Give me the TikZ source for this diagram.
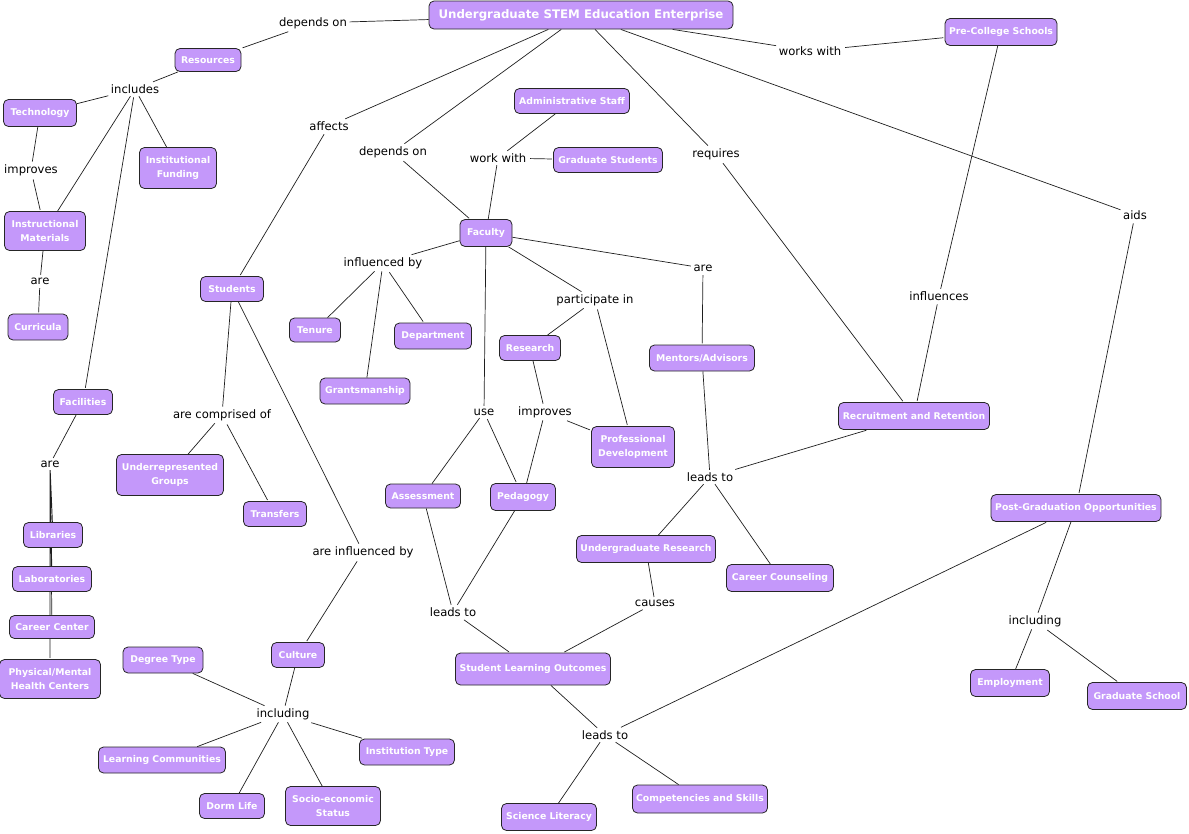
\documentclass[tikz,border=0pt]{standalone}
\usepackage{fontspec}
\setmainfont{DejaVu Sans}
\usetikzlibrary{backgrounds}
\definecolor{lilac}{RGB}{196,152,250}
\definecolor{edgecol}{RGB}{30,30,30}
\tikzset{
  concept/.style={draw=black!85, line width=0.8pt, fill=lilac, rounded corners=5pt, text=white,
    font=\bfseries\fontsize{9.3}{13.5}\selectfont, align=center, inner sep=1pt},
  link/.style={font=\fontsize{11.6}{13}\selectfont, text=black, inner sep=2.5pt},
  edge/.style={draw=edgecol, line width=0.7pt, shorten <=1.2pt, shorten >=1.2pt},
}
\newcommand{\cn}[6]{\node[concept, minimum width=#4pt, minimum height=#5pt] (#1) at (#2pt,-#3pt) {#6};}
\newcommand{\lk}[4]{\node[link] (#1) at (#2pt,-#3pt) {#4};}
\begin{document}
\begin{tikzpicture}
\useasboundingbox (0,0) rectangle (1189pt,-833pt);
% concepts
\node[concept, minimum width=304pt, minimum height=28pt, font=\bfseries\fontsize{11.8}{14}\selectfont] (ent) at (581pt,-15pt) {Undergraduate STEM Education Enterprise};
\cn{res}{208}{60}{66}{23}{Resources}
\cn{tech}{40}{113}{73}{27}{Technology}
\cn{funding}{178}{168}{77}{41}{Institutional\\Funding}
\cn{instr}{45}{231}{81}{39}{Instructional\\Materials}
\cn{curr}{38}{327}{60}{26}{Curricula}
\cn{fac}{83}{402}{59}{25}{Facilities}
\cn{lib}{53}{535}{59}{25}{Libraries}
\cn{lab}{52}{579}{79}{25}{Laboratories}
\cn{career}{52}{627}{85}{23}{Career Center}
\cn{health}{50}{679}{101}{39}{Physical/Mental\\Health Centers}
\cn{stud}{232}{289}{63}{25}{Students}
\cn{under}{170}{475}{107}{41}{Underrepresented\\Groups}
\cn{transf}{275}{514}{63}{25}{Transfers}
\cn{culture}{298}{655}{53}{25}{Culture}
\cn{degree}{163}{660}{80}{26}{Degree Type}
\cn{learn}{162}{760}{127}{26}{Learning Communities}
\cn{dorm}{232}{806}{65}{25}{Dorm Life}
\cn{socio}{333}{806}{95}{39}{Socio-economic\\Status}
\cn{insttype}{407}{752}{95}{26}{Institution Type}
\cn{admin}{572}{101}{115}{25}{Administrative Staff}
\cn{grad}{608}{160}{109}{25}{Graduate Students}
\cn{faculty}{486}{233}{52}{27}{Faculty}
\cn{tenure}{315}{330}{51}{24}{Tenure}
\cn{dept}{433}{336}{77}{26}{Department}
\cn{grants}{365}{391}{90}{26}{Grantsmanship}
\cn{research}{530}{348}{61}{25}{Research}
\cn{profdev}{633}{447}{83}{41}{Professional\\Development}
\cn{mentors}{702}{358}{105}{26}{Mentors/Advisors}
\cn{assess}{423}{496}{75}{24}{Assessment}
\cn{peda}{523}{497}{65}{27}{Pedagogy}
\cn{ugres}{646}{549}{139}{27}{Undergraduate Research}
\cn{careerc}{780}{578}{107}{27}{Career Counseling}
\cn{slo}{533}{669}{155}{32}{Student Learning Outcomes}
\cn{scilit}{549}{817}{95}{27}{Science Literacy}
\cn{comp}{700}{799}{135}{28}{Competencies and Skills}
\cn{precol}{1001}{32}{112}{27}{Pre-College Schools}
\cn{recruit}{914}{416}{151}{27}{Recruitment and Retention}
\cn{postgrad}{1076}{508}{170}{27}{Post-Graduation Opportunities}
\cn{employ}{1010}{683}{79}{27}{Employment}
\cn{gradsch}{1137}{696}{99}{27}{Graduate School}
% linking phrases
\lk{l1}{313}{23}{depends on}
\lk{l2}{135}{89}{includes}
\lk{l3}{31}{170}{improves}
\lk{l4}{40}{281}{are}
\lk{l5}{50}{464}{are}
\lk{l6}{329}{126}{affects}
\lk{l7}{393}{152}{depends on}
\lk{l8}{498}{158}{work with}
\lk{l9}{716}{154}{requires}
\lk{l10}{810}{51}{works with}
\lk{l11}{1135}{215}{aids}
\lk{l12}{939}{296}{influences}
\lk{l13}{383}{263}{influenced by}
\lk{l14}{595}{300}{participate in}
\lk{l15}{703}{268}{are}
\lk{l16}{484}{412}{use}
\lk{l17}{545}{412}{improves}
\lk{l18}{710}{477}{leads to}
\lk{l19}{222}{415}{are comprised of}
\lk{l20}{363}{552}{are influenced by}
\lk{l21}{283}{714}{including}
\lk{l22}{453}{612}{leads to}
\lk{l23}{655}{603}{causes}
\lk{l24}{605}{735}{leads to}
\lk{l25}{1035}{621}{including}
\begin{pgfonlayer}{background}
\path[edge] (ent) -- (l1) (l1) -- (res);
\path[edge] (res) -- (l2) (l2) -- (tech) (l2) -- (instr) (l2) -- (funding) (l2) -- (fac);
\path[edge] (tech) -- (l3) (l3) -- (instr);
\path[edge] (instr) -- (l4) (l4) -- (curr);
\path[edge] (fac) -- (l5) (l5) -- (lib) (l5) -- (lab) (l5) -- (career) (l5) -- (health);
\path[edge] (ent) -- (l6) (l6) -- (stud);
\path[edge] (ent) -- (l7) (l7) -- (faculty);
\path[edge] (faculty) -- (l8) (l8) -- (admin) (l8) -- (grad);
\path[edge] (ent) -- (l9) (l9) -- (recruit);
\path[edge] (ent) -- (l10) (l10) -- (precol);
\path[edge] (ent) -- (l11) (l11) -- (postgrad);
\path[edge] (precol) -- (l12) (l12) -- (recruit);
\path[edge] (faculty) -- (l13) (l13) -- (tenure) (l13) -- (grants) (l13) -- (dept);
\path[edge] (faculty) -- (l14) (l14) -- (research) (l14) -- (profdev);
\path[edge] (faculty) -- (l15) (l15) -- (mentors);
\path[edge] (faculty) -- (l16) (l16) -- (assess) (l16) -- (peda);
\path[edge] (research) -- (l17) (l17) -- (peda) (l17) -- (profdev);
\path[edge] (mentors) -- (l18) (l18) -- (ugres) (l18) -- (careerc) (recruit) -- (l18);
\path[edge] (stud) -- (l19) (l19) -- (under) (l19) -- (transf);
\path[edge] (stud) -- (l20) (l20) -- (culture);
\path[edge] (culture) -- (l21) (l21) -- (degree) (l21) -- (learn) (l21) -- (dorm) (l21) -- (socio) (l21) -- (insttype);
\path[edge] (assess) -- (l22) (peda) -- (l22) (l22) -- (slo);
\path[edge] (ugres) -- (l23) (l23) -- (slo);
\path[edge] (slo) -- (l24) (l24) -- (scilit) (l24) -- (comp) (postgrad) -- (l24);
\path[edge] (postgrad) -- (l25) (l25) -- (employ) (l25) -- (gradsch);
\end{pgfonlayer}
\end{tikzpicture}
\end{document}
